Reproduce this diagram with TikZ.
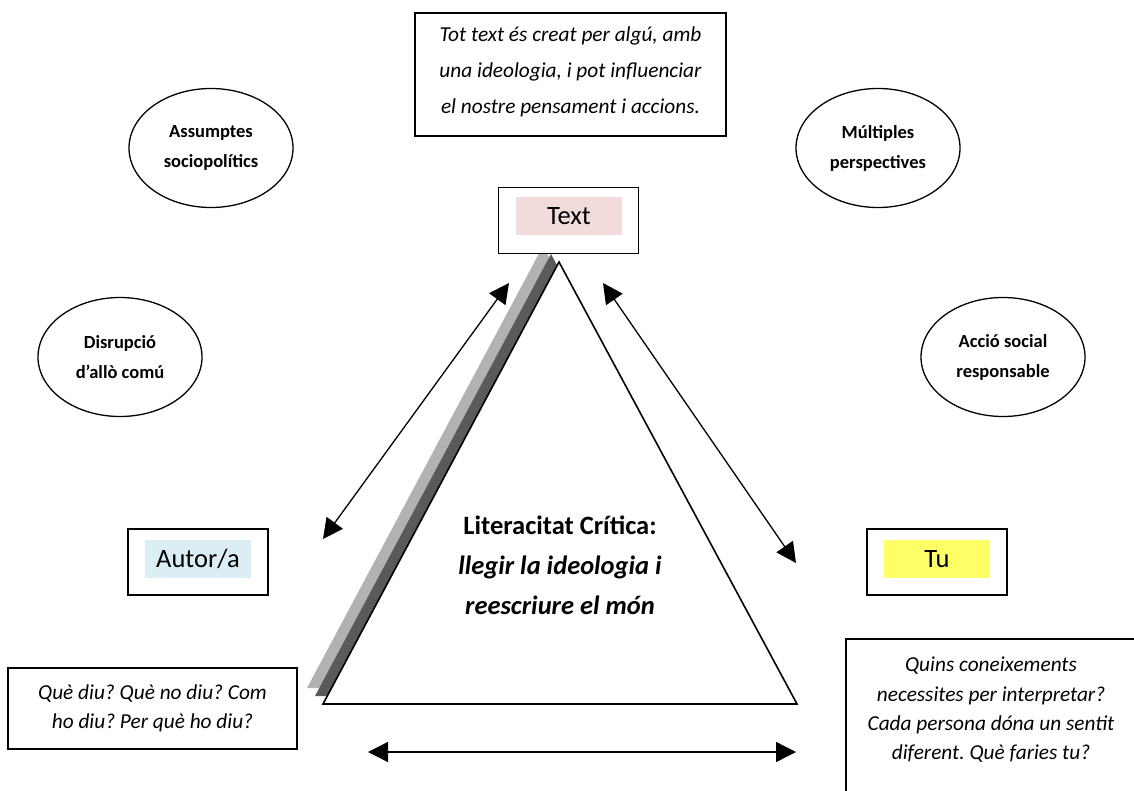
\documentclass[tikz,border=0pt]{standalone}
\usepackage{fontspec}
\setmainfont{Carlito}
\frenchspacing
\usetikzlibrary{positioning, shapes.geometric, arrows.meta}
\definecolor{textpink}{HTML}{F2DCDB}
\definecolor{autorblue}{HTML}{DAEEF3}
\definecolor{tuyellow}{HTML}{FFFF66}
\definecolor{shadelight}{HTML}{B2B2B2}
\definecolor{shadedark}{HTML}{5A5A5A}
\tikzset{
  qframe/.style={draw, line width=1.3pt, inner sep=0pt},
  qtext/.style={align=center, inner sep=0pt, font=\fontsize{21.3}{36}\selectfont\itshape},
  ovalnode/.style={ellipse, draw, line width=1.3pt, minimum width=164pt,
                   minimum height=119pt, align=center, inner sep=0pt,
                   font=\fontsize{18.5}{30}\selectfont\bfseries},
  lblbox/.style={draw, line width=1.3pt, fill=white, minimum width=140pt,
                 minimum height=66pt},
  lbltag/.style={minimum width=106pt, minimum height=38pt, inner sep=0pt,
                 font=\fontsize{26.5}{30}\selectfont},
  darr/.style={{Triangle[length=20pt,width=20pt]}-{Triangle[length=20pt,width=20pt]},
               line width=1.3pt},
}

\begin{document}
\begin{tikzpicture}[x=1pt, y=-1pt]
  \useasboundingbox (0,0) rectangle (1134,791);

  % --- statement boxes ----------------------------------------------
  \node[qframe, minimum width=311pt, minimum height=123pt] (claimbox) at (570.5,74.5) {};
  \node[qtext] (claim) at (570.5,72)
        {Tot text és creat per algú, amb\\una ideologia, i pot influenciar\\el nostre pensament i accions.};
  \node[qframe, minimum width=289pt, minimum height=81pt] (autorqbox) at (152.5,708.5) {};
  \node[qtext, font=\fontsize{21.3}{29}\selectfont\itshape] (askautor) at (152.5,708)
        {Què diu? Què no diu? Com\\ho diu? Per què ho diu?};
  \node[qframe, minimum width=290pt, minimum height=162pt] (tuqbox) at (991,720) {};
  \node[qtext, font=\fontsize{21.3}{29.3}\selectfont\itshape] (asktu) at (991,710)
        {Quins coneixements\\necessites per interpretar?\\Cada persona dóna un sentit\\diferent. Què faries tu?};

  % --- ovals ---------------------------------------------------------
  \node[ovalnode] (assump) at (211,148) {Assumptes\\sociopolítics};
  \node[ovalnode] (multi)  at (878,148) {Múltiples\\perspectives};
  \node[ovalnode] (disrup) at (120,357) {Disrupció\\d’allò comú};
  \node[ovalnode] (accio)  at (1003,357) {Acció social\\responsable};

  % --- triangle with its shadow -------------------------------------
  \coordinate (apex) at (559,262);
  \coordinate (bl) at (323,704);
  \coordinate (br) at (797,704);
  \fill[shadelight] ([shift={(-16,-16)}]apex) -- ([shift={(-16,-16)}]bl) -- ([shift={(-16,-16)}]br) -- cycle;
  \fill[shadedark] ([shift={(-8,-8)}]apex) -- ([shift={(-8,-8)}]bl) -- ([shift={(-8,-8)}]br) -- cycle;
  \draw[fill=white, line width=1.6pt, line join=miter] (apex) -- (bl) -- (br) -- cycle;

  \node[align=center, font=\fontsize{26.5}{40}\selectfont\bfseries] (core) at (560,565)
        {Literacitat Crítica:\\\itshape llegir la ideologia i\\\itshape reescriure el món};

  % --- the three corners ---------------------------------------------
  \node[lblbox] (textbox) at (568.5,220.5) {};
  \node[lbltag, fill=textpink] (textlbl) at (569,216.5) {Text};
  \node[lblbox] (autorbox) at (198,562) {};
  \node[lbltag, fill=autorblue] (autorlbl) at (198,559) {Autor/a};
  \node[lblbox] (tubox) at (937,562) {};
  \node[lbltag, fill=tuyellow] (tulbl) at (937,559) {Tu};

  % --- double arrows ---------------------------------------------------
  \coordinate (la1) at (323,539);
  \coordinate (la2) at (509,283);
  \coordinate (ra1) at (603,283);
  \coordinate (ra2) at (796,563);
  \coordinate (ba1) at (368,752);
  \coordinate (ba2) at (796,752);
  \draw[darr] (la1) -- (la2);
  \draw[darr] (ra1) -- (ra2);
  \draw[darr] (ba1) -- (ba2);

\end{tikzpicture}
\end{document}
